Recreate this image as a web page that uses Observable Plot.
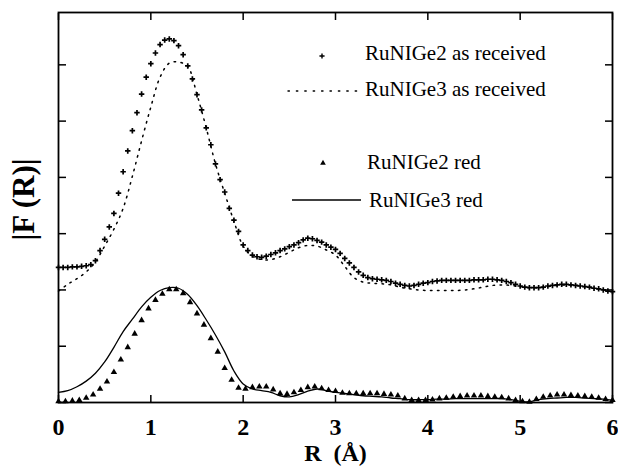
<!DOCTYPE html>
<html><head><meta charset="utf-8">
<script src="https://cdn.jsdelivr.net/npm/d3@7"></script>
<script src="https://cdn.jsdelivr.net/npm/@observablehq/plot@0.6"></script>
<style>
html,body{margin:0;padding:0;background:#fff;}
#chart{width:618px;height:467px;}
</style></head><body><div id="chart"></div>
<script>
// ---- series names ----
const nameAsRec2 = "RuNIGe2 as received";
const nameAsRec3 = "RuNIGe3 as received";
const nameRed2 = "RuNIGe2 red";
const nameRed3 = "RuNIGe3 red";

// ---- axis ticks / labels ----
const xTicks = [0, 1, 2, 3, 4, 5, 6];
const yTicks = [0, 1, 2, 3, 4, 5, 6];
const xLabel = "R\u00a0\u00a0(Å)";
const yLabel = "|F (R)|";

// ---- RuNIGe2 as received (plus markers) ----
const rAsRec2 = [0,0.05,0.1,0.15,0.2,0.25,0.3,0.35,0.4,0.45,0.5,0.55,0.6,0.65,0.7,0.75,0.8,0.85,0.9,0.95,
 1,1.05,1.1,1.15,1.2,1.25,1.3,1.35,1.4,1.45,1.5,1.55,1.6,1.65,1.7,1.75,1.8,1.85,1.9,1.95,
 2,2.05,2.1,2.15,2.2,2.25,2.3,2.35,2.4,2.45,2.5,2.55,2.6,2.65,2.7,2.75,2.8,2.85,2.9,2.95,
 3,3.05,3.1,3.15,3.2,3.25,3.3,3.35,3.4,3.45,3.5,3.55,3.6,3.65,3.7,3.75,3.8,3.85,3.9,3.95,
 4,4.05,4.1,4.15,4.2,4.25,4.3,4.35,4.4,4.45,4.5,4.55,4.6,4.65,4.7,4.75,4.8,4.85,4.9,4.95,
 5,5.05,5.1,5.15,5.2,5.25,5.3,5.35,5.4,5.45,5.5,5.55,5.6,5.65,5.7,5.75,5.8,5.85,5.9,5.95,6];
const fAsRec2 = [2.40,2.40,2.40,2.41,2.41,2.42,2.43,2.45,2.52,2.70,2.90,3.12,3.36,3.72,4.10,4.47,4.83,5.15,5.48,5.78,
 6.02,6.21,6.36,6.44,6.46,6.43,6.34,6.18,5.98,5.75,5.47,5.20,4.88,4.58,4.24,3.96,3.74,3.45,3.24,3.04,
 2.80,2.70,2.62,2.59,2.58,2.60,2.63,2.66,2.70,2.73,2.77,2.80,2.84,2.89,2.92,2.91,2.88,2.85,2.80,2.76,
 2.72,2.65,2.56,2.48,2.40,2.32,2.26,2.22,2.20,2.19,2.18,2.17,2.15,2.12,2.10,2.08,2.07,2.08,2.10,2.12,
 2.13,2.15,2.16,2.17,2.17,2.17,2.17,2.17,2.17,2.17,2.18,2.18,2.18,2.19,2.19,2.18,2.17,2.15,2.13,2.10,
 2.07,2.05,2.04,2.04,2.04,2.05,2.07,2.08,2.09,2.10,2.10,2.09,2.08,2.07,2.06,2.05,2.03,2.02,2.00,1.98,1.97];

// ---- RuNIGe3 as received (dotted line) ----
const rAsRec3 = [0,0.1,0.2,0.3,0.4,0.5,0.6,0.7,0.8,0.9,1,1.1,1.2,1.3,1.4,1.5,1.6,1.7,1.8,1.9,
 2,2.1,2.2,2.3,2.4,2.5,2.6,2.7,2.8,2.9,3,3.1,3.2,3.3,3.4,3.5,3.6,3.7,3.8,3.9,
 4,4.1,4.2,4.3,4.4,4.5,4.6,4.7,4.8,4.9,5,5.1,5.2,5.3,5.4,5.5,5.6,5.7,5.8,5.9,6];
const fAsRec3 = [1.98,2.10,2.20,2.32,2.50,2.78,3.08,3.45,4.02,4.65,5.25,5.78,6.03,6.05,5.97,5.47,4.88,4.24,3.72,3.22,
 2.78,2.60,2.54,2.54,2.59,2.67,2.75,2.79,2.78,2.71,2.62,2.42,2.22,2.14,2.12,2.11,2.09,2.05,2.02,2.00,
 1.99,1.99,1.99,1.99,2.00,2.02,2.05,2.08,2.09,2.08,2.06,2.04,2.04,2.06,2.08,2.09,2.08,2.06,2.03,2.00,1.97];

// ---- RuNIGe2 red (triangle markers) ----
const rRed2 = [0,0.075,0.15,0.225,0.3,0.375,0.45,0.525,0.6,0.675,0.75,0.825,0.9,0.975,1.05,1.125,1.2,1.275,1.35,1.425,
 1.5,1.575,1.65,1.725,1.8,1.875,1.95,2.025,2.1,2.175,2.25,2.325,2.4,2.475,2.55,2.625,2.7,2.775,2.85,2.925,
 3,3.075,3.15,3.225,3.3,3.375,3.45,3.525,3.6,3.675,3.75,3.825,3.9,3.975,4.05,4.125,4.2,4.275,4.35,4.425,
 4.5,4.575,4.65,4.725,4.8,4.875,4.95,5.025,5.1,5.175,5.25,5.325,5.4,5.475,5.55,5.625,5.7,5.775,5.85,5.925,6];
const fRed2 = [0.02,0.02,0.03,0.04,0.08,0.14,0.24,0.37,0.54,0.76,0.98,1.22,1.46,1.67,1.82,1.93,2.01,2.01,1.94,1.78,
 1.58,1.38,1.14,0.90,0.61,0.40,0.26,0.24,0.27,0.28,0.28,0.23,0.16,0.15,0.18,0.22,0.27,0.28,0.25,0.22,
 0.20,0.17,0.16,0.16,0.16,0.16,0.16,0.15,0.14,0.12,0.07,0.04,0.04,0.04,0.05,0.07,0.08,0.10,0.11,0.12,
 0.12,0.12,0.11,0.10,0.09,0.07,0.04,0.02,0.01,0.06,0.10,0.12,0.14,0.14,0.13,0.12,0.11,0.10,0.08,0.06,0.04];

// ---- RuNIGe3 red (solid line) ----
const rRed3 = [0,0.1,0.2,0.3,0.4,0.5,0.6,0.7,0.8,0.9,1,1.1,1.2,1.3,1.4,1.5,1.6,1.7,1.8,1.9,
 2,2.1,2.2,2.3,2.4,2.5,2.6,2.7,2.8,2.9,3,3.1,3.2,3.3,3.4,3.5,3.6,3.7,3.8,3.9,
 4,4.1,4.2,4.3,4.4,4.5,4.6,4.7,4.8,4.9,5,5.1,5.2,5.3,5.4,5.5,5.6,5.7,5.8,5.9,6];
const fRed3 = [0.18,0.21,0.28,0.38,0.52,0.72,0.98,1.26,1.48,1.70,1.87,1.99,2.04,2.03,1.92,1.72,1.47,1.20,0.90,0.56,
 0.33,0.24,0.21,0.18,0.12,0.10,0.14,0.20,0.24,0.21,0.18,0.16,0.14,0.12,0.11,0.10,0.08,0.07,0.05,0.05,
 0.05,0.06,0.06,0.07,0.07,0.07,0.07,0.07,0.07,0.05,0.02,0.01,0.05,0.07,0.08,0.09,0.09,0.08,0.07,0.06,0.04];

const zip = (rs, fs) => rs.map((r, i) => ({r, f: fs[i]}));
const dAsRec2 = zip(rAsRec2, fAsRec2);
const dAsRec3 = zip(rAsRec3, fAsRec3);
const dRed2 = zip(rRed2, fRed2);
const dRed3 = zip(rRed3, fRed3);

const serif = "'Liberation Serif', 'Times New Roman', serif";

const chart = Plot.plot({
  width: 618,
  height: 467,
  marginLeft: 58,
  marginRight: 6,
  marginTop: 12,
  marginBottom: 65,
  style: {fontFamily: serif, background: "white", color: "black"},
  x: {domain: [0, 6]},
  y: {domain: [0, 6.93]},
  marks: [
    // tick labels
    Plot.axisX(xTicks, {anchor: "bottom", tickSize: 0, tickPadding: 15, fontSize: 24, fontWeight: "bold", tickFormat: d => String(d), label: null}),
    // inward ticks (outward ticks shifted inside by their own length)
    Plot.axisX(xTicks, {anchor: "bottom", tickSize: 7, dy: -7, tickFormat: () => "", label: null, strokeWidth: 1.5}),
    Plot.axisX(xTicks, {anchor: "top", tickSize: 7, dy: 7, tickFormat: () => "", label: null, strokeWidth: 1.5}),
    Plot.axisY(yTicks, {anchor: "left", tickSize: 8, dx: 8, tickFormat: () => "", label: null, strokeWidth: 1.5}),
    Plot.axisY(yTicks, {anchor: "right", tickSize: 8, dx: -8, tickFormat: () => "", label: null, strokeWidth: 1.5}),
    Plot.frame({stroke: "black", strokeWidth: 1.8}),
    // axis titles
    Plot.text([xLabel], {frameAnchor: "bottom", dy: 58, text: d => d, fontSize: 24, fontWeight: "bold", textAnchor: "middle", lineAnchor: "bottom"}),
    Plot.text([yLabel], {frameAnchor: "left", dx: -34, dy: -8, rotate: -90, text: d => d, fontSize: 31, fontWeight: "bold", textAnchor: "middle", lineAnchor: "middle"}),
    // data
    Plot.line(dAsRec3, {x: "r", y: "f", stroke: "black", strokeWidth: 1.5, strokeDasharray: "1.5,5.5", strokeLinecap: "round", curve: "catmull-rom"}),
    Plot.line(dRed3, {x: "r", y: "f", stroke: "black", strokeWidth: 1.3, curve: "catmull-rom"}),
    Plot.dot(dAsRec2, {x: "r", y: "f", symbol: "plus", r: 1.9, fill: "none", stroke: "black", strokeWidth: 1.7}),
    Plot.dot(dRed2, {x: "r", y: "f", symbol: "triangle", r: 2.4, fill: "black", stroke: "none"})
  ]
});

document.getElementById("chart").appendChild(chart);

// ---- legend (inside the plot area) ----
const svg = d3.select(chart);
const lg = svg.append("g").attr("font-family", serif).attr("font-size", 21)
  .attr("fill", "black").attr("text-anchor", "start");
const items = [
  {name: nameAsRec2, kind: "plus", y: 53, tx: 365},
  {name: nameAsRec3, kind: "dotted", y: 89, tx: 365},
  {name: nameRed2, kind: "triangle", y: 162, tx: 367},
  {name: nameRed3, kind: "solid", y: 200, tx: 369}
];
items.forEach(it => {
  if (it.kind === "plus") {
    lg.append("path").attr("d", d3.symbol(d3.symbolPlus, 10)()).attr("transform", `translate(322,${it.y + 3})`)
      .attr("fill", "none").attr("stroke", "black").attr("stroke-width", 1.4);
  } else if (it.kind === "triangle") {
    lg.append("path").attr("d", d3.symbol(d3.symbolTriangle, 14)()).attr("transform", `translate(323,${it.y + 1})`);
  } else if (it.kind === "dotted") {
    lg.append("line").attr("x1", 288).attr("x2", 358).attr("y1", it.y + 2).attr("y2", it.y + 2)
      .attr("stroke", "black").attr("stroke-width", 1.4).attr("stroke-dasharray", "1.4,7").attr("stroke-linecap", "round");
  } else {
    lg.append("line").attr("x1", 292).attr("x2", 361).attr("y1", it.y).attr("y2", it.y)
      .attr("stroke", "black").attr("stroke-width", 1.3);
  }
  lg.append("text").attr("x", it.tx).attr("y", it.y).attr("dy", "0.35em").text(it.name);
});
</script></body></html>
